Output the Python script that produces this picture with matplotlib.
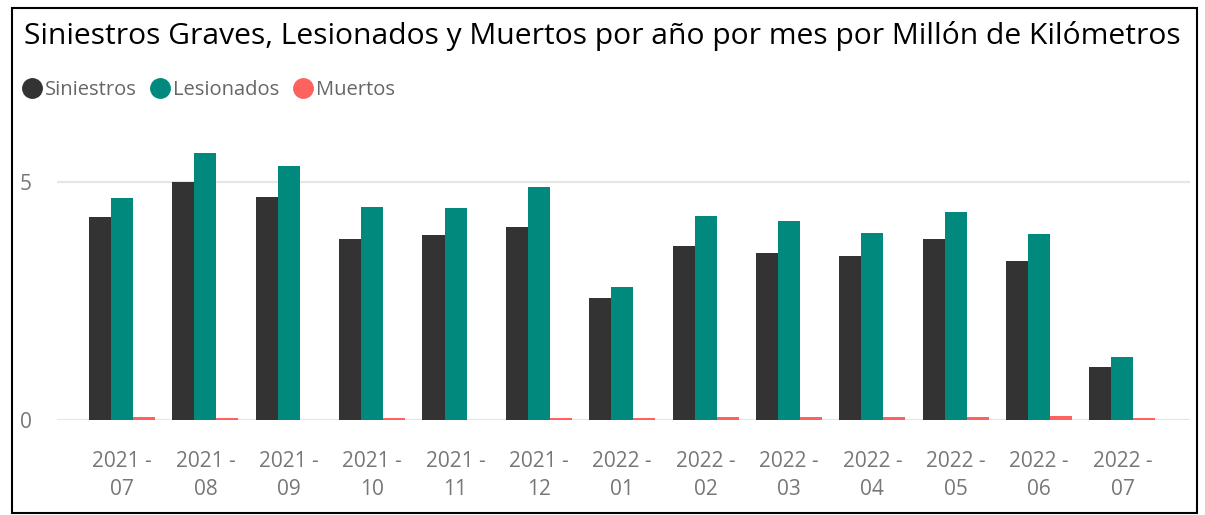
import matplotlib.pyplot as plt
import matplotlib.patches as mpatches
from matplotlib.lines import Line2D
import numpy as np

plt.rcParams['font.family'] = ['Open Sans', 'DejaVu Sans']

# Datos
meses = ['2021 -\n07', '2021 -\n08', '2021 -\n09', '2021 -\n10', '2021 -\n11', '2021 -\n12',
         '2022 -\n01', '2022 -\n02', '2022 -\n03', '2022 -\n04', '2022 -\n05', '2022 -\n06',
         '2022 -\n07']
siniestros = [4.26, 5.00, 4.68, 3.80, 3.89, 4.05, 2.56, 3.66, 3.51, 3.45, 3.80, 3.34, 1.11]
lesionados = [4.66, 5.61, 5.34, 4.47, 4.45, 4.89, 2.79, 4.29, 4.18, 3.93, 4.37, 3.91, 1.32]
muertos = [0.06, 0.04, 0.0, 0.04, 0.0, 0.04, 0.04, 0.06, 0.06, 0.06, 0.06, 0.08, 0.04]

series = ['Siniestros', 'Lesionados', 'Muertos']
colores = ['#333333', '#01897e', '#fd625e']

W, H = 1205, 515
fig = plt.figure(figsize=(W / 100, H / 100), dpi=100)
ax = fig.add_axes([57 / W, (H - 420) / H, (1190 - 57) / W, 285.6 / H])

x = np.arange(len(meses))
ancho = 0.264
for i, (vals, col) in enumerate(zip([siniestros, lesionados, muertos], colores)):
    ax.bar(x + (i - 1) * ancho, vals, width=ancho, color=col, zorder=3, label=series[i])

ax.set_xlim(-0.78, 12.81)
ax.set_ylim(0, 6)
ax.set_yticks([0, 5])
ax.set_xticks(x)
ax.set_xticklabels(meses, linespacing=1.45)
ax.tick_params(axis='both', length=0, labelsize=15, labelcolor='#777777')
ax.tick_params(axis='x', pad=22)
ax.tick_params(axis='y', pad=18)
ax.grid(axis='y', color='#e6e6e6', linewidth=1.6, zorder=0)
for s in ax.spines.values():
    s.set_visible(False)

# Título
fig.text(24 / W, 1 - 36 / H, 'Siniestros Graves, Lesionados y Muertos por año por mes por Millón de Kilómetros',
         fontsize=21.6, ha='left', va='center', color='black')

# Leyenda con círculos
handles = [Line2D([0], [0], marker='o', linestyle='', markersize=14, markerfacecolor=c,
                  markeredgecolor=c) for c in colores]
fig.legend(handles, series, loc='center left', bbox_to_anchor=(24 / W, 1 - 90 / H), ncol=3,
           frameon=False, handlelength=0.8, handletextpad=0.25, columnspacing=0.75,
           borderaxespad=0, borderpad=0, labelcolor='#666666', fontsize=14.5)

# Marco exterior
fig.patches.append(mpatches.Rectangle((12 / W, 2 / H), 1185 / W, 505 / H, transform=fig.transFigure,
                                      fill=False, edgecolor='black', linewidth=1.5))

plt.savefig('out.png', dpi=100)
